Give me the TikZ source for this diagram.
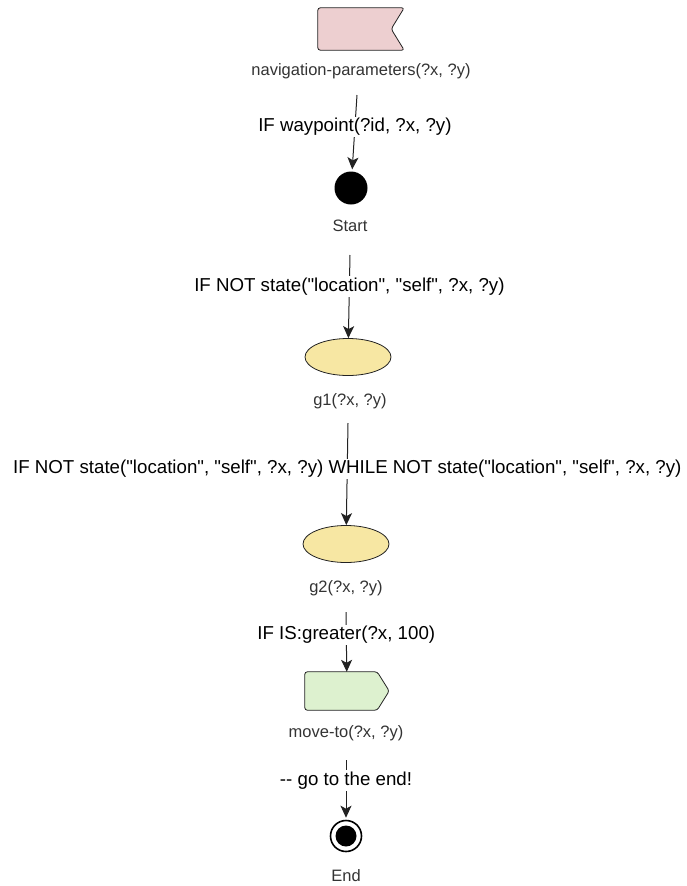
\documentclass[tikz,border=0pt]{standalone}
\usepackage{fontspec}
\setmainfont{Liberation Sans}[Ligatures=TeXOff]
\usetikzlibrary{shapes.geometric,arrows.meta}
\definecolor{flagpink}{HTML}{EDCFD0}
\definecolor{goalyellow}{HTML}{F7E7A3}
\definecolor{actgreen}{HTML}{DDF1CF}
\definecolor{lblgray}{HTML}{333333}
\definecolor{linegray}{HTML}{222222}
\tikzset{
  nodelbl/.style={font=\fontsize{16.5}{19}\selectfont, text=lblgray, inner sep=1pt},
  edgelbl/.style={font=\fontsize{18.7}{21}\selectfont, fill=white, text=black, inner sep=1.5pt},
  flow/.style={draw=linegray, line width=1pt, -{Stealth[length=12pt,width=11pt,inset=3pt]}},
  goal/.style={ellipse, draw=linegray, line width=0.8pt, fill=goalyellow, minimum width=86pt, minimum height=37pt, inner sep=0pt},
  shapeline/.style={draw=linegray, line width=0.8pt, rounded corners=2.5pt},
}
\begin{document}
\begin{tikzpicture}[x=1pt,y=-1pt]
  \useasboundingbox (0,0) rectangle (687,886);

  % receive-parameters flag
  \node[minimum width=84pt, minimum height=42pt, inner sep=0pt] (nav) at (360,29) {};
  \path[shapeline, fill=flagpink]
    (nav.north west) -- ([xshift=2pt]nav.north east) -- ([xshift=-11pt]nav.east)
    -- ([xshift=2pt]nav.south east) -- (nav.south west) -- cycle;
  \node[nodelbl] (navl) at (361,71) {navigation-parameters(?x, ?y)};

  % start state
  \node[circle, fill=black, minimum size=33pt, inner sep=0pt] (start) at (351,188) {};
  \node[nodelbl] (startl) at (350,226) {Start};

  % goals
  \node[goal] (g1) at (348,357) {};
  \node[nodelbl] (g1l) at (350,401) {g1(?x, ?y)};
  \node[goal] (g2) at (346,544) {};
  \node[nodelbl] (g2l) at (346,588) {g2(?x, ?y)};

  % action
  \node[minimum width=84pt, minimum height=38pt, inner sep=0pt] (mv) at (347,691) {};
  \path[shapeline, fill=actgreen]
    (mv.north west) -- ([xshift=-12pt]mv.north east) -- (mv.east)
    -- ([xshift=-12pt]mv.south east) -- (mv.south west) -- cycle;
  \node[nodelbl] (mvl) at (346,733) {move-to(?x, ?y)};

  % end state
  \node[circle, draw=black, line width=1.6pt, fill=white, minimum size=31pt, inner sep=0pt] (end) at (346,836) {};
  \node[circle, fill=black, minimum size=21pt, inner sep=0pt] (endc) at (end.center) {};
  \node[nodelbl] (endl) at (346,876) {End};

  % connector free ends
  \coordinate (e1) at (357,95);
  \coordinate (e2) at (350,255);
  \coordinate (e3) at (348,423);
  \coordinate (e4) at (346,612);
  \coordinate (e5) at (346,760);

  \draw[flow, shorten >=2pt] (e1) -- node[edgelbl, pos=0.42] {IF waypoint(?id, ?x, ?y)} (start);
  \draw[flow] (e2) -- node[edgelbl, pos=0.38] {IF NOT state("location", "self", ?x, ?y)} (g1);
  \draw[flow] (e3) -- node[edgelbl, pos=0.45] {IF NOT state("location", "self", ?x, ?y) WHILE NOT state("location", "self", ?x, ?y)} (g2);
  \draw[flow] (e4) -- node[edgelbl, pos=0.38] {IF IS:greater(?x, 100)} (mv);
  \draw[flow, shorten >=2pt] (e5) -- node[edgelbl, pos=0.34] {-- go to the end!} (end);
\end{tikzpicture}
\end{document}
